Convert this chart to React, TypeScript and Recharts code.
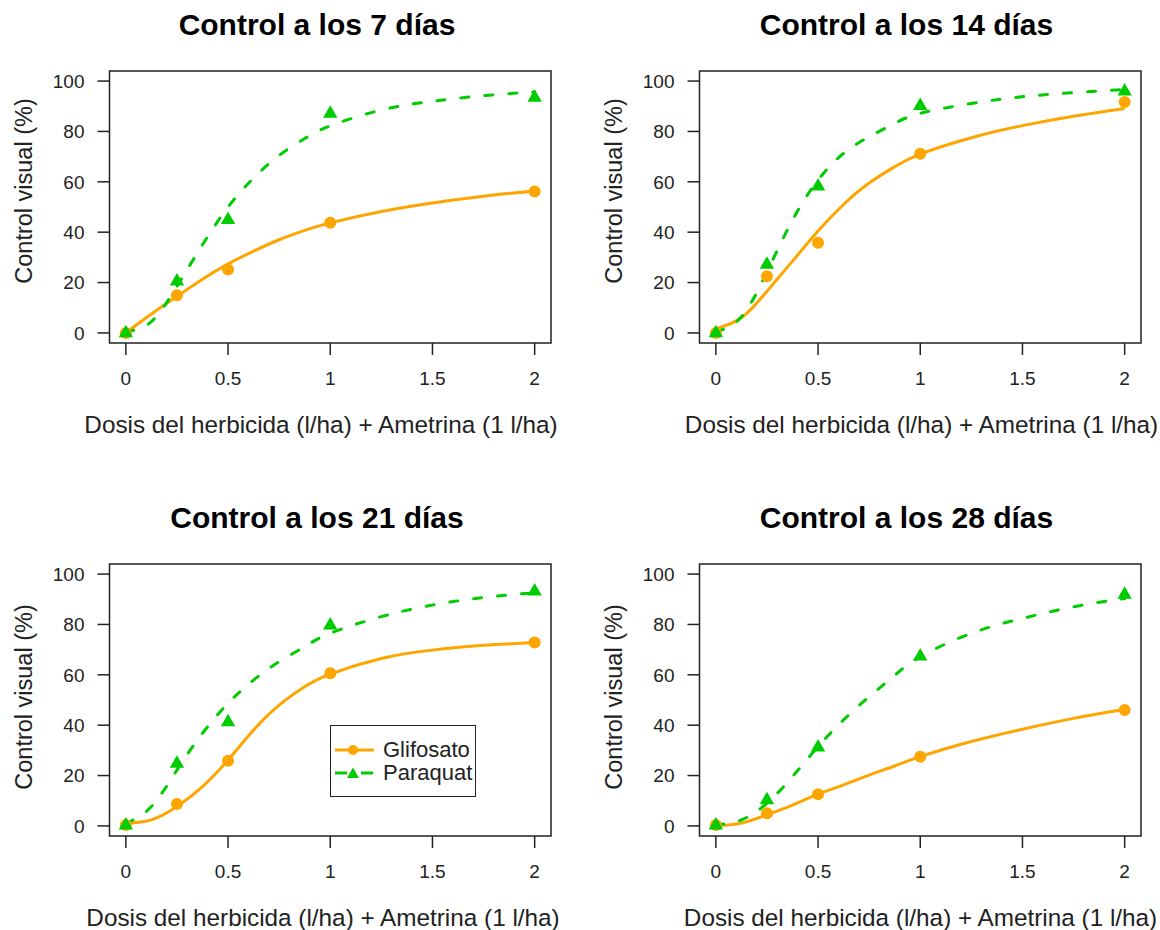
import React from 'react';
import { ComposedChart, Line, Scatter, XAxis, YAxis, ReferenceArea } from 'recharts';

// dosis evaluadas (l/ha) y dosis donde se leyó la curva ajustada
const DOSES = [0, 0.25, 0.5, 1, 2];
const FIT_DOSES = [0, 0.125, 0.25, 0.375, 0.5, 0.625, 0.75, 0.875, 1, 1.25, 1.5, 1.75, 2];
const X_TICKS = [0, 0.5, 1, 1.5, 2];
const Y_TICKS = [0, 20, 40, 60, 80, 100];
const SERIES = ['Glifosato', 'Paraquat'];

// 7 días
const GLIF_7 = [0, 15, 25.2, 43.7, 56.2];
const PARA_7 = [0.7, 21.2, 45.6, 87.8, 94.2];
const GLIF_FIT_7 = [0, 7.5, 14.5, 21.3, 27.4, 32.5, 37, 40.7, 43.7, 48.2, 51.6, 54.3, 56.4];
const PARA_FIT_7 = [0.5, 4.5, 18.5, 35, 50, 61.5, 70.5, 77.2, 82.2, 88.5, 92, 94.2, 95.7];

// 14 días
const GLIF_14 = [0, 22.5, 35.8, 71.1, 91.7];
const PARA_14 = [0.7, 27.9, 58.9, 90.9, 96.7];
const GLIF_FIT_14 = [1.7, 6, 16.5, 28.5, 40.5, 51, 59.5, 66, 71, 77.5, 82.3, 86, 89.1];
const PARA_FIT_14 = [0.4, 6.4, 24.2, 44.8, 60.7, 71.3, 77.9, 83.2, 87.2, 91.1, 93.8, 95.4, 96.7];

// 21 días
const GLIF_21 = [0.4, 8.7, 25.9, 60.6, 72.8];
const PARA_21 = [1, 25.5, 42, 80.4, 93.9];
const GLIF_FIT_21 = [1.1, 2.4, 7.7, 15.6, 26.2, 38.1, 48, 55.3, 60.3, 66.5, 69.8, 71.7, 72.8];
const PARA_FIT_21 = [1, 7.7, 22.2, 36.8, 48.7, 57.9, 65.2, 71.2, 76.5, 83.1, 87.7, 90.7, 92.6];

// 28 días
const GLIF_28 = [0.4, 5, 12.6, 27.5, 46];
const PARA_28 = [1, 11, 31.9, 68.1, 92.6];
const GLIF_FIT_28 = [0, 1.1, 4.4, 8.3, 12.6, 16.3, 20.2, 23.8, 27.5, 33.5, 38.4, 42.7, 46.3];
const PARA_FIT_28 = [0.4, 2.4, 9, 19.6, 31.5, 42.1, 51.3, 59.8, 67.2, 76.5, 82.4, 87, 90.3];

const ORANGE = '#FFA500';
const GREEN = '#00CD00';
const INK = '#222';
const FONT = '"Liberation Sans", Arial, Helvetica, sans-serif';
const DASH = '8 16';

const toPoints = (xs: number[], ys: number[]) => xs.map((x, i) => ({ x, y: ys[i] }));

const Dot = (props: any) => <circle cx={props.cx} cy={props.cy} r={6} fill={ORANGE} />;
const Tri = (props: any) => {
  const { cx, cy } = props;
  return <polygon points={`${cx},${cy - 6.5} ${cx - 7.2},${cy + 6} ${cx + 7.2},${cy + 6}`} fill={GREEN} />;
};

function Legend() {
  const row = (name: string, color: string, dashed: boolean, marker: React.ReactNode) => (
    <div key={name} style={{ display: 'flex', alignItems: 'center', height: 23 }}>
      <svg width={48} height={14}>
        <line x1={4} y1={7} x2={43} y2={7} stroke={color} strokeWidth={3}
          strokeDasharray={dashed ? '12 14' : undefined} />
        {marker}
      </svg>
      <span style={{ fontSize: 22, color: INK, marginLeft: 4 }}>{name}</span>
    </div>
  );
  return (
    <div style={{
      position: 'absolute', left: 330, top: 232, width: 144, height: 70,
      border: `1.5px solid ${INK}`, background: '#fff', fontFamily: FONT,
      display: 'flex', flexDirection: 'column', justifyContent: 'center',
    }}>
      {row(SERIES[0], ORANGE, false, <circle cx={22} cy={7} r={5} fill={ORANGE} />)}
      {row(SERIES[1], GREEN, true, <polygon points="22,1.5 16,12 28,12" fill={GREEN} />)}
    </div>
  );
}

interface PanelProps {
  day: number;
  glif: number[];
  para: number[];
  glifFit: number[];
  paraFit: number[];
  left: number;
  top: number;
  xLabelX: number;
  yLabelY: number;
  legend?: boolean;
}

function Panel({ day, glif, para, glifFit, paraFit, left, top, xLabelX, yLabelY, legend }: PanelProps) {
  const label: React.CSSProperties = {
    position: 'absolute', transform: 'translate(-50%, -50%)', whiteSpace: 'nowrap',
    lineHeight: 1, color: INK, fontFamily: FONT,
  };
  return (
    <div style={{ position: 'absolute', left, top, width: 570, height: 437 }}>
      <ComposedChart width={570} height={437} margin={{ top: 71, right: 19, bottom: 0, left: 0 }}>
        <XAxis
          dataKey="x" type="number" domain={[-0.08, 2.08]} ticks={X_TICKS} allowDataOverflow
          axisLine={false} tickSize={12} tickMargin={17} height={94}
          tickLine={{ stroke: INK, strokeWidth: 1.5 }}
          tick={{ fill: INK, fontSize: 19, fontFamily: FONT }}
          tickFormatter={(v: number) => String(v)}
        />
        <YAxis
          dataKey="y" type="number" domain={[-4, 104]} ticks={Y_TICKS} allowDataOverflow
          axisLine={false} tickSize={12} tickMargin={13} width={109.5}
          tickLine={{ stroke: INK, strokeWidth: 1.5 }}
          tick={{ fill: INK, fontSize: 19, fontFamily: FONT }}
        />
        <ReferenceArea x1={-0.08} x2={2.08} y1={-4} y2={104} fill="none" stroke={INK}
          strokeWidth={1.5} ifOverflow="visible" />
        <Line data={toPoints(FIT_DOSES, glifFit)} dataKey="y" name={SERIES[0]} type="natural"
          stroke={ORANGE} strokeWidth={3} dot={false} isAnimationActive={false} />
        <Line data={toPoints(FIT_DOSES, paraFit)} dataKey="y" name={SERIES[1]} type="natural"
          stroke={GREEN} strokeWidth={3} strokeDasharray={DASH} strokeLinecap="round"
          dot={false} isAnimationActive={false} />
        <Scatter data={toPoints(DOSES, glif)} dataKey="y" shape={Dot} isAnimationActive={false} />
        <Scatter data={toPoints(DOSES, para)} dataKey="y" shape={Tri} isAnimationActive={false} />
      </ComposedChart>
      <div style={{ ...label, left: 317, top: 25, fontSize: 30, fontWeight: 'bold', color: '#000' }}>
        Control a los {day} días
      </div>
      <div style={{ ...label, left: xLabelX, top: 425, fontSize: 24.3 }}>
        Dosis del herbicida (l/ha) + Ametrina (1 l/ha)
      </div>
      <div style={{ ...label, left: 25, top: yLabelY, fontSize: 23.5, transform: 'translate(-50%, -50%) rotate(-90deg)' }}>
        Control visual (%)
      </div>
      {legend && <Legend />}
    </div>
  );
}

export default function App() {
  return (
    <div style={{ position: 'absolute', left: 0, top: 0, width: 1160, height: 930, background: '#fff', overflow: 'hidden' }}>
      <Panel day={7} glif={GLIF_7} para={PARA_7} glifFit={GLIF_FIT_7} paraFit={PARA_FIT_7}
        left={0} top={0} xLabelX={321} yLabelY={191} />
      <Panel day={14} glif={GLIF_14} para={PARA_14} glifFit={GLIF_FIT_14} paraFit={PARA_FIT_14}
        left={589.5} top={0} xLabelX={332} yLabelY={191} />
      <Panel day={21} glif={GLIF_21} para={PARA_21} glifFit={GLIF_FIT_21} paraFit={PARA_FIT_21}
        left={0} top={493} xLabelX={323} yLabelY={204} legend />
      <Panel day={28} glif={GLIF_28} para={PARA_28} glifFit={GLIF_FIT_28} paraFit={PARA_FIT_28}
        left={589.5} top={493} xLabelX={331} yLabelY={204} />
    </div>
  );
}
